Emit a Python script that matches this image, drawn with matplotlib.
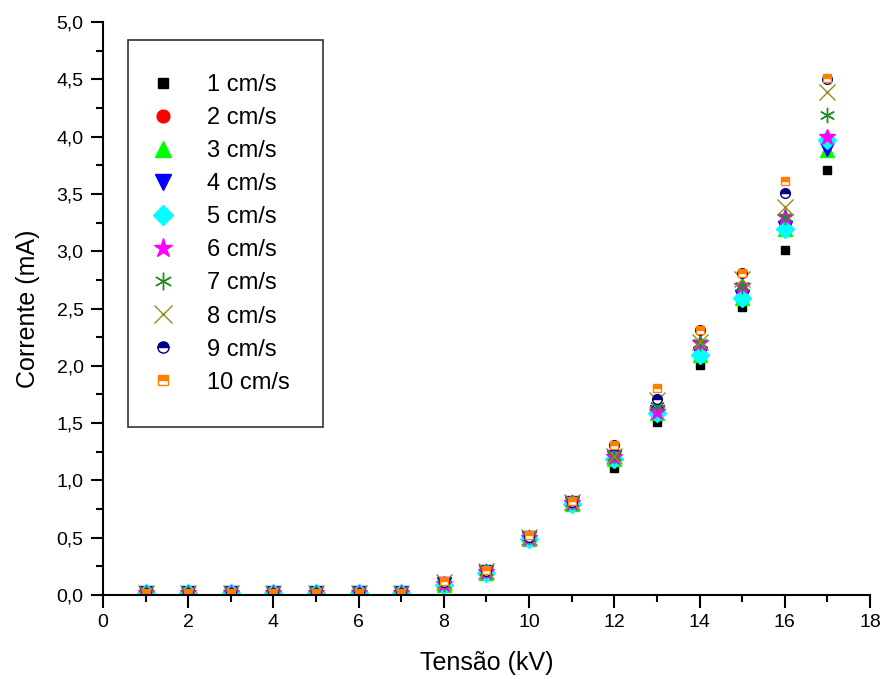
import numpy as np
import matplotlib
matplotlib.use('Agg')
import matplotlib.pyplot as plt
from matplotlib.ticker import MultipleLocator, FuncFormatter

plt.rcParams['font.family'] = ['Liberation Sans', 'DejaVu Sans']

# tensao (kV)
tensao = list(range(1, 18))

# corrente (mA) for each velocity
low = [0.02] * 7
c1 = low + [0.09, 0.19, 0.50, 0.80, 1.11, 1.51, 2.01, 2.51, 3.01, 3.71]
c2 = low + [0.10, 0.20, 0.50, 0.80, 1.20, 1.60, 2.15, 2.65, 3.25, 3.95]
c3 = low + [0.09, 0.19, 0.49, 0.79, 1.19, 1.59, 2.09, 2.59, 3.19, 3.88]
c4 = low + [0.10, 0.20, 0.50, 0.80, 1.20, 1.60, 2.10, 2.60, 3.20, 3.89]
c5 = low + [0.09, 0.19, 0.49, 0.79, 1.19, 1.59, 2.09, 2.59, 3.19, 3.97]
c6 = low + [0.10, 0.20, 0.50, 0.80, 1.20, 1.60, 2.20, 2.70, 3.30, 4.00]
c7 = low + [0.10, 0.21, 0.51, 0.81, 1.21, 1.65, 2.20, 2.70, 3.30, 4.19]
c8 = low + [0.11, 0.21, 0.51, 0.81, 1.21, 1.70, 2.21, 2.76, 3.39, 4.39]
c9 = low + [0.11, 0.21, 0.51, 0.81, 1.31, 1.71, 2.31, 2.81, 3.51, 4.50]
c10 = low + [0.12, 0.22, 0.52, 0.82, 1.31, 1.81, 2.31, 2.81, 3.61, 4.51]

labels = ['1 cm/s', '2 cm/s', '3 cm/s', '4 cm/s', '5 cm/s',
          '6 cm/s', '7 cm/s', '8 cm/s', '9 cm/s', '10 cm/s']
series = [c1, c2, c3, c4, c5, c6, c7, c8, c9, c10]

# marker styles, Origin like
styles = [
    dict(marker='s', color='black', ms=6),
    dict(marker='o', color='red', ms=8),
    dict(marker='^', color='#00ff00', ms=10),
    dict(marker='v', color='blue', ms=10),
    dict(marker='D', color='cyan', ms=9),
    dict(marker='*', color='magenta', ms=12),
    dict(marker=(6, 2, 0), color='#228b22', ms=11, mew=1.0),
    dict(marker='x', color='#9a8a1a', ms=11, mew=1.0),
    dict(marker='o', color='navy', ms=7, fillstyle='top',
         markerfacecoloralt='white', mec='navy', mew=1.0),
    dict(marker='s', color='#ff8000', ms=6, fillstyle='top',
         markerfacecoloralt='white', mec='#ff8000', mew=1.0),
]

fig = plt.figure(figsize=(8.85, 6.79), dpi=100)
ax = fig.add_axes([0.1164, 0.1237, 0.8666, 0.8439])

for y, lab, st in zip(series, labels, styles):
    ax.plot(tensao, y, linestyle='none', label=lab, **st)

ax.set_xlim(0, 18)
ax.set_ylim(0, 5.0)
ax.xaxis.set_major_locator(MultipleLocator(2))
ax.xaxis.set_minor_locator(MultipleLocator(1))
ax.yaxis.set_major_locator(MultipleLocator(0.5))
ax.yaxis.set_minor_locator(MultipleLocator(0.25))
ax.yaxis.set_major_formatter(FuncFormatter(lambda v, p: ('%.1f' % v).replace('.', ',')))

ax.spines['top'].set_visible(False)
ax.spines['right'].set_visible(False)
for s in ['left', 'bottom']:
    ax.spines[s].set_linewidth(1.5)
ax.tick_params(which='major', direction='out', length=9, width=1.5, labelsize=14, pad=5)
ax.tick_params(which='minor', direction='out', length=5, width=1.5)

ax.set_xlabel('Tensão (kV)', fontsize=18, labelpad=14)
ax.set_ylabel('Corrente (mA)', fontsize=18, labelpad=12)

leg = ax.legend(loc='upper left', bbox_to_anchor=(0.033, 0.968), fontsize=17,
                frameon=True, fancybox=False, edgecolor='black', borderpad=1.42,
                labelspacing=0.47, handletextpad=1.8, handlelength=0.1,
                borderaxespad=0, markerscale=1.15)
leg.get_frame().set_linewidth(1.2)

fig.savefig('out.png', dpi=100)
